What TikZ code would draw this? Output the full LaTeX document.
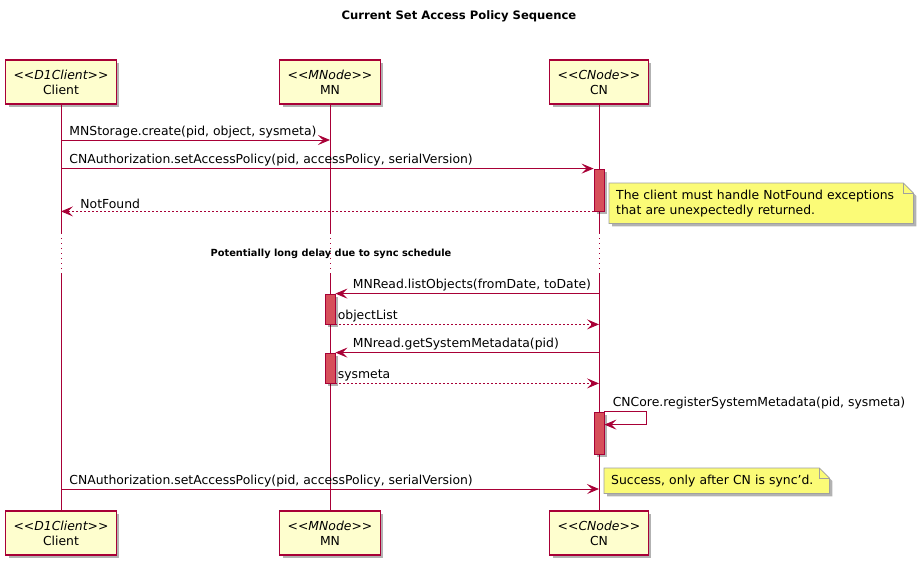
\documentclass[tikz,border=0pt]{standalone}
\usepackage{fontspec}
\setmainfont{DejaVu Sans}
\usetikzlibrary{arrows.meta,shadows,calc,backgrounds}
\definecolor{umlred}{HTML}{A80036}
\definecolor{umlfill}{HTML}{FEFECE}
\definecolor{actred}{HTML}{D64F5A}
\definecolor{notefill}{HTML}{FBFB77}
\definecolor{notegray}{HTML}{A0A0A0}
\newcommand{\stereo}[1]{\textit{<{}<#1>{}>}}

\begin{document}
\begin{tikzpicture}[x=1pt, y=-1pt, font=\fontsize{12.4}{15}\selectfont,
			shade/.style={drop shadow={shadow xshift=3pt, shadow yshift=-3pt, opacity=0.3, fill=black}},
			part/.style={draw=umlred, line width=1.2pt, fill=umlfill, align=center,
				minimum height=44pt, inner xsep=8pt, inner ysep=0pt, shade},
			life/.style={umlred, line width=0.8pt},
			msg/.style={umlred, line width=0.8pt, -{Stealth[length=12pt, width=10pt, inset=5pt]}},
			ret/.style={msg, dash pattern=on 2pt off 2pt},
			actbar/.style={draw=umlred, line width=0.8pt, fill=actred, minimum width=10pt, inner sep=0pt, shade},
			lbl/.style={anchor=south west, inner sep=0pt, yshift=2pt, text=black},
			notetext/.style={anchor=north west, align=left, inner xsep=7pt, inner ysep=0pt},
			notebox/.style={draw=notegray, fill=notefill, line width=0.8pt, shade}]
			\useasboundingbox (0,0) rectangle (917,562);
			\node[font=\bfseries\fontsize{11.6}{14}\selectfont] (title) at (459,16) {Current Set Access Policy Sequence};
			% participants, top and bottom
			\node[part] (cl) at (61,82) {\stereo{D1Client}\\Client};
			\node[part] (mn) at (330,82) {\stereo{MNode}\\MN};
			\node[part] (cn) at (599,82) {\stereo{CNode}\\CN};
			\node[part] (clb) at (61,533) {\stereo{D1Client}\\Client};
			\node[part] (mnb) at (330,533) {\stereo{MNode}\\MN};
			\node[part] (cnb) at (599,533) {\stereo{CNode}\\CN};
			\coordinate (d1) at (0,233);
			\coordinate (d2) at (0,273);
			\foreach \p/\q in {cl/clb, mn/mnb, cn/cnb} {
				\draw[life] (\p.south) -- (\p |- d1);
				\draw[life, dash pattern=on 1pt off 4pt] (\p |- d1) -- (\p |- d2);
				\draw[life] (\p |- d2) -- (\q.north);
			}
			\node[font=\bfseries\fontsize{9.8}{12}\selectfont] (delay) at (331,254) {Potentially long delay due to sync schedule};
			% activations
			\node[actbar, minimum height=42pt] (a1) at (599,190) {};
			\node[actbar, minimum height=30pt] (a2) at (330,309) {};
			\node[actbar, minimum height=30pt] (a3) at (330,368) {};
			\node[actbar, minimum height=42pt] (a4) at (599,433) {};
			\coordinate (r1) at (0,140);
			\coordinate (r9) at (0,489);
			% messages
			\draw[msg] (cl |- r1) -- node[lbl, pos=0, xshift=8pt] {MNStorage.create(pid, object, sysmeta)} (mn |- r1);
			\draw[msg] (cl |- a1.north) -- node[lbl, pos=0, xshift=8pt] {CNAuthorization.setAccessPolicy(pid, accessPolicy, serialVersion)} (a1.north west);
			\draw[ret] (a1.south west) -- node[lbl, pos=1, xshift=19pt] {NotFound} (cl |- a1.south);
			\draw[msg] (cn |- a2.north) -- node[lbl, pos=1, xshift=17pt] {MNRead.listObjects(fromDate, toDate)} (a2.north east);
			\draw[ret] (a2.south east) -- node[lbl, pos=0, xshift=2pt] {objectList} (cn |- a2.south);
			\draw[msg] (cn |- a3.north) -- node[lbl, pos=1, xshift=17pt] {MNread.getSystemMetadata(pid)} (a3.north east);
			\draw[ret] (a3.south east) -- node[lbl, pos=0, xshift=2pt] {sysmeta} (cn |- a3.south);
			\draw[msg] (a4.north east) -- node[lbl, pos=0, xshift=8pt] {CNCore.registerSystemMetadata(pid, sysmeta)} ++(42,0) |- ($(a4.north east)+(0,13)$);
			\draw[msg] (cl |- r9) -- node[lbl, pos=0, xshift=8pt] {CNAuthorization.setAccessPolicy(pid, accessPolicy, serialVersion)} (cn |- r9);
			% notes
			\node[notetext, text width=290pt, minimum height=40pt] (n1) at (609,183) {The client must handle NotFound exceptions\\that are unexpectedly returned.};
			\node[notetext, text width=211pt, minimum height=25pt] (n2) at (604,468) {Success, only after CN is sync'd.};
			\begin{scope}[on background layer]
				\foreach \n in {n1, n2} {
					\draw[notebox] (\n.north west) -- ($(\n.north east)+(-10,0)$) -- ($(\n.north east)+(0,10)$)
						-- (\n.south east) -- (\n.south west) -- cycle;
					\draw[notegray, line width=0.8pt] ($(\n.north east)+(-10,0)$) |- ($(\n.north east)+(0,10)$);
				}
			\end{scope}
			\end{tikzpicture}
\end{document}
